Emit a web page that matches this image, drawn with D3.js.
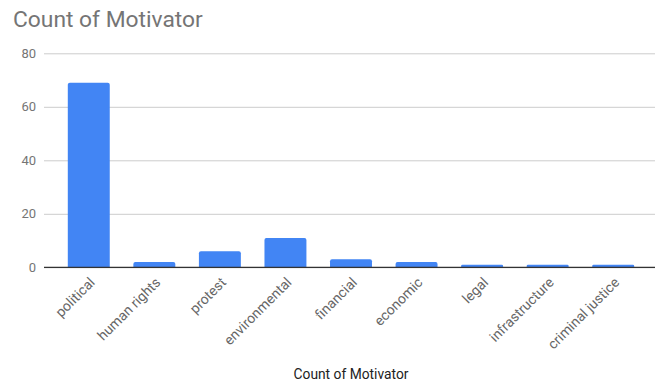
<!DOCTYPE html>
<html>
<head>
<meta charset="utf-8">
<script src="https://cdn.jsdelivr.net/npm/d3@7"></script>
<style>
  html, body { margin: 0; padding: 0; background: #fff; }
  svg { display: block; font-family: Roboto, "Noto Sans", Arial, sans-serif; }
</style>
</head>
<body>
<div id="chart"></div>
<script>
// Motivator categories and their counts
const categories = ["political", "human rights", "protest", "environmental", "financial",
                    "economic", "legal", "infrastructure", "criminal justice"];
const counts = [69, 2, 6, 11, 3, 2, 1, 1, 1];
const yTicks = [0, 20, 40, 60, 80];

const width = 655, height = 387;
const plot = { left: 44, right: 655, top: 53.3, bottom: 267.3 };

const svg = d3.select("#chart").append("svg")
  .attr("width", width).attr("height", height);

const x = d3.scaleBand()
  .domain(categories)
  .range([56, 646])
  .paddingInner(0.36)
  .paddingOuter(0.18);

const y = d3.scaleLinear()
  .domain([0, 80])
  .range([plot.bottom, plot.top]);

// Title
svg.append("text")
  .attr("x", 13).attr("y", 27)
  .attr("fill", "#757575")
  .attr("font-size", 22.8)
  .text("Count of Motivator");

// Horizontal gridlines and y tick labels
const yAxis = d3.axisLeft(y).tickValues(yTicks).tickSize(-(plot.right - plot.left)).tickPadding(8);
const gy = svg.append("g")
  .attr("transform", `translate(${plot.left},0)`)
  .call(yAxis);
gy.select(".domain").remove();
gy.selectAll(".tick line").attr("stroke", "#cccccc").attr("stroke-width", 1);
gy.selectAll(".tick text")
  .attr("fill", "#757575")
  .attr("font-size", 13)
  .attr("font-family", "Roboto, sans-serif");

// Bars
svg.append("g").selectAll("path")
  .data(categories.map((c, i) => ({ c, v: counts[i] })))
  .join("path")
  .attr("fill", "#4285f4")
  .attr("d", d => {
    const x0 = x(d.c), w = x.bandwidth();
    const top = y(d.v), bot = y(0);
    const r = Math.min(2, (bot - top) / 2);
    return `M${x0},${bot} L${x0},${top + r} Q${x0},${top} ${x0 + r},${top} ` +
           `L${x0 + w - r},${top} Q${x0 + w},${top} ${x0 + w},${top + r} L${x0 + w},${bot} Z`;
  });

// Baseline
svg.append("line")
  .attr("x1", plot.left).attr("x2", plot.right)
  .attr("y1", y(0)).attr("y2", y(0))
  .attr("stroke", "#333333").attr("stroke-width", 1.2);

// Rotated category labels
svg.append("g").selectAll("text")
  .data(categories)
  .join("text")
  .attr("transform", d => `translate(${x(d) + x.bandwidth() / 2 + 7},${plot.bottom + 16}) rotate(-45)`)
  .attr("text-anchor", "end")
  .attr("fill", "#666666")
  .attr("font-size", 14)
  .text(d => d);

// Axis title
svg.append("text")
  .attr("x", 351).attr("y", 379)
  .attr("text-anchor", "middle")
  .attr("fill", "#222222")
  .attr("font-size", 13.8)
  .text("Count of Motivator");
</script>
</body>
</html>
